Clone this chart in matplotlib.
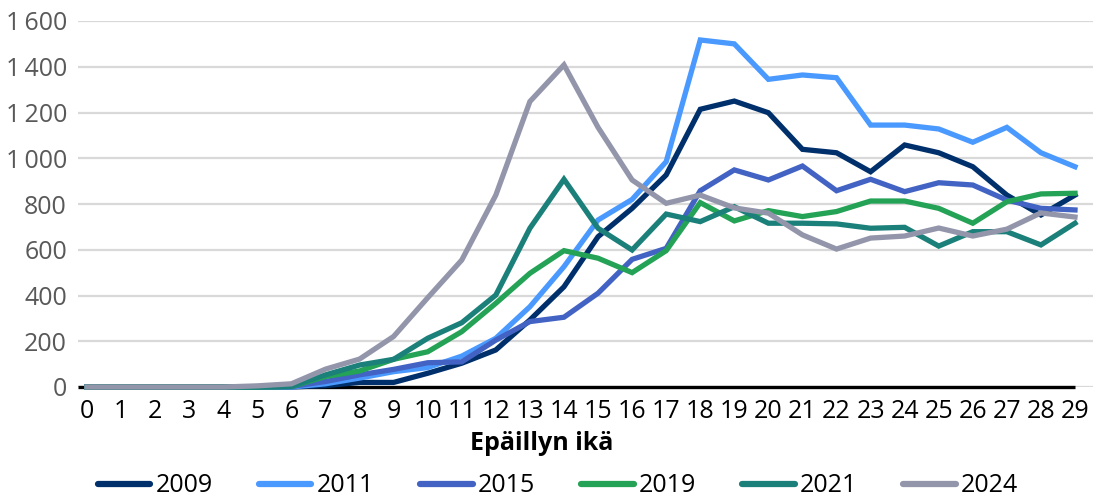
import matplotlib
matplotlib.use("Agg")
import matplotlib.pyplot as plt
from matplotlib.lines import Line2D

plt.rcParams['font.family'] = ['Open Sans', 'DejaVu Sans']

ages = list(range(30))
years = ["2009", "2011", "2015", "2019", "2021", "2024"]
s2009 = [0, 0, 0, 0, 0, 0, 0, 6, 20, 20, 60, 104, 162, 293, 438, 657, 781, 927, 1214, 1250,
         1199, 1039, 1024, 941, 1058, 1024, 963, 839, 752, 839]
s2011 = [0, 0, 0, 0, 0, 0, 0, 14, 39, 67, 85, 135, 213, 351, 526, 730, 820, 985, 1517, 1500,
         1345, 1364, 1352, 1145, 1145, 1128, 1070, 1135, 1024, 963]
s2015 = [0, 0, 0, 0, 0, 0, 2, 24, 53, 77, 106, 110, 205, 286, 305, 410, 558, 606, 858, 949,
         905, 966, 858, 908, 854, 893, 883, 817, 781, 774]
s2019 = [0, 0, 0, 0, 0, 0, 2, 46, 70, 121, 154, 242, 366, 497, 596, 563, 500, 596, 806, 726,
         771, 745, 767, 813, 813, 781, 716, 810, 844, 847]
s2021 = [0, 0, 0, 0, 0, 0, 3, 53, 96, 121, 213, 281, 402, 694, 908, 694, 599, 756, 723, 788,
         716, 716, 713, 694, 698, 616, 679, 679, 621, 716]
s2024 = [0, 0, 0, 0, 0, 5, 14, 78, 122, 221, 390, 555, 839, 1248, 1408, 1135, 905, 803, 839, 783,
         760, 665, 603, 651, 660, 695, 660, 690, 761, 743]
series = [s2009, s2011, s2015, s2019, s2021, s2024]
colors = ["#00306B", "#4A99FF", "#4263C3", "#24A256", "#1B807A", "#9396AB"]
yticks = [0, 200, 400, 600, 800, 1000, 1200, 1400, 1600]
ytick_labels = ["0", "200", "400", "600", "800", "1\u2009000", "1\u2009200", "1\u2009400", "1\u2009600"]
xlabel = "Epäillyn ikä"

fig = plt.figure(figsize=(10.99, 5.0), dpi=100)
ax = fig.add_axes([78 / 1099, 1 - 387 / 500, (1093 - 78) / 1099, (387 - 21) / 500])

ax.set_ylim(0, 1600)
ax.set_xlim(-9 / 34.07, 29 + 18 / 34.07)
ax.set_yticks(yticks)
ax.set_yticklabels(ytick_labels)
ax.set_xticks(ages)
ax.set_xticklabels([str(a) for a in ages])
ax.grid(axis='y', color='#D9D9D9', linewidth=1.6)
ax.set_axisbelow(True)
for sp in ax.spines.values():
    sp.set_visible(False)
ax.tick_params(axis='both', length=0)
ax.tick_params(axis='y', labelsize=18, labelcolor='#595959', pad=8)
ax.tick_params(axis='x', labelsize=18, labelcolor='black', pad=9)

ax.plot([ax.get_xlim()[0], 29], [0, 0], color='black', linewidth=2.4, zorder=2,
        solid_capstyle='butt', clip_on=False)

for y, s, c in zip(years, series, colors):
    ax.plot(ages, s, color=c, linewidth=3.8, label=y, zorder=3, clip_on=False,
            solid_joinstyle='miter')

fig.text(542 / 1099, 1 - 443 / 500, xlabel, ha='center', va='center', fontsize=18,
         fontweight='bold', color='black')

handles = [Line2D([0], [0], color=c, linewidth=4.5, solid_capstyle='round') for c in colors]
fig.legend(handles, years, loc='center', bbox_to_anchor=(558 / 1099, 1 - 486 / 500), ncol=6,
           frameon=False, fontsize=18, handlelength=2.1, handletextpad=0.2, columnspacing=1.85,
           borderaxespad=0, borderpad=0)

fig.savefig("out.png", dpi=100)
